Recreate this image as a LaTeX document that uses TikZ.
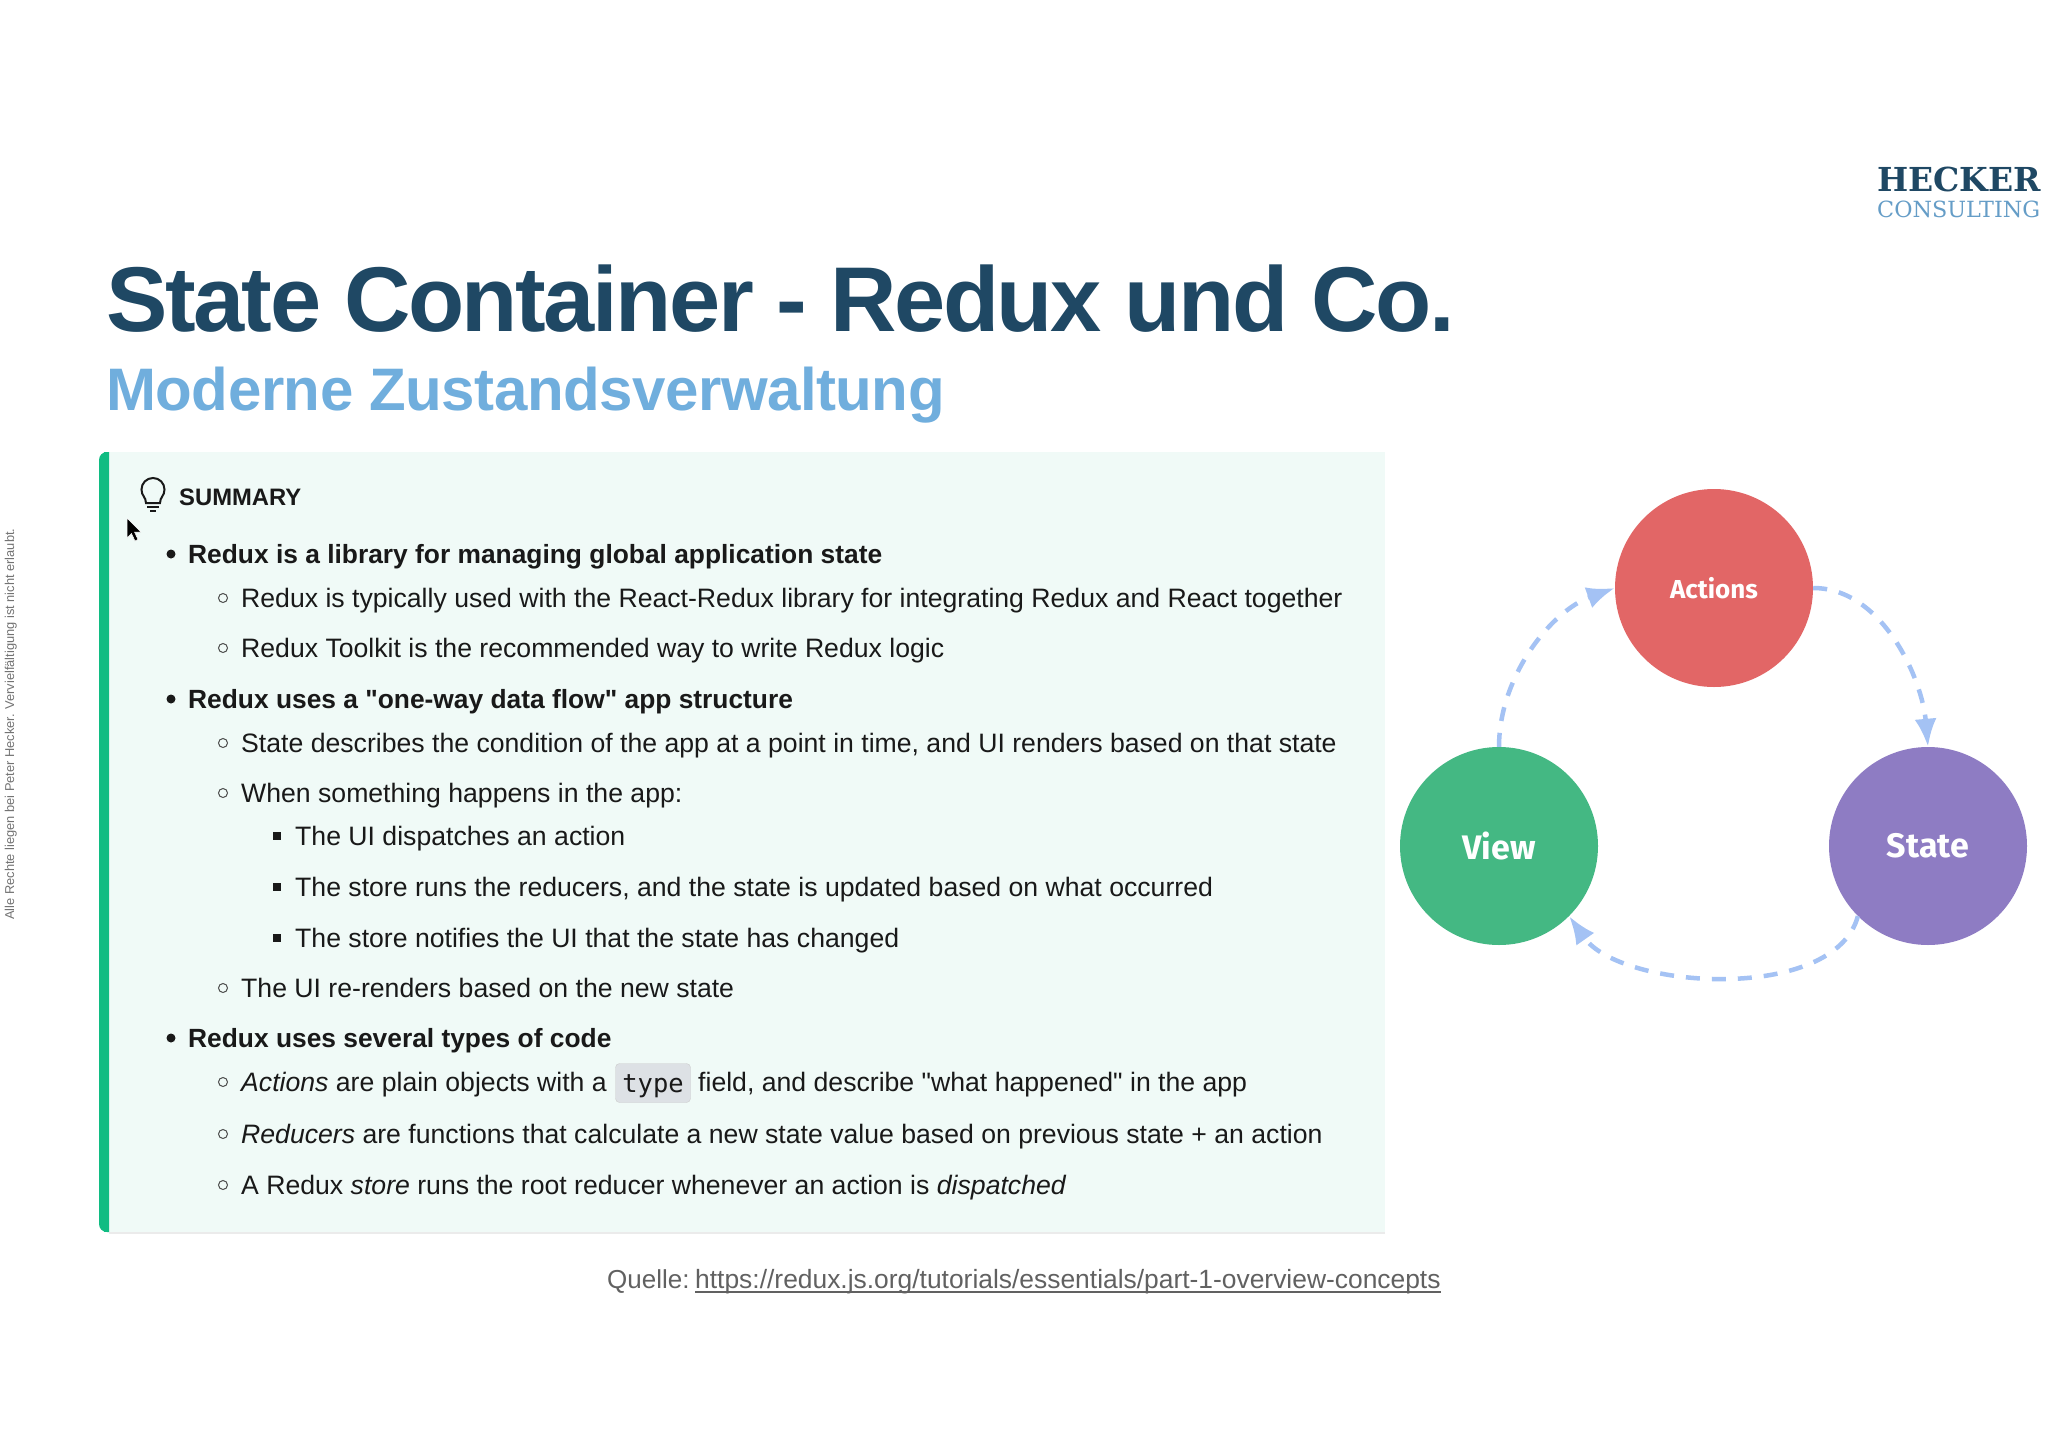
\documentclass[tikz,border=0pt]{standalone}
\usepackage{fontspec}
\setmainfont{Liberation Sans}
\newfontfamily\bodyfont{Liberation Sans}
\newfontfamily\titlefont[LetterSpace=-2.7]{Liberation Sans}
\newfontfamily\subtitlefont[LetterSpace=-0.8]{Liberation Sans}
\newfontfamily\circlefont{Fira Sans}
\newfontfamily\logofont{DejaVu Serif}
\newfontfamily\chipfont{DejaVu Sans Mono}
\usetikzlibrary{arrows.meta}
\definecolor{titleblue}{HTML}{1F4864}
\definecolor{subblue}{HTML}{70AEDD}
\definecolor{boxfill}{HTML}{F0FAF7}
\definecolor{boxgreen}{HTML}{10BC82}
\definecolor{actionsred}{HTML}{E26666}
\definecolor{viewgreen}{HTML}{44B883}
\definecolor{statepurple}{HTML}{8E7CC3}
\definecolor{flowblue}{HTML}{A4C2F4}
\definecolor{chipgray}{HTML}{DDE1E5}
\tikzset{
    txt/.style = {inner sep = 0, anchor = base west, text = black!90},
    itemone/.style = {txt, font = \bodyfont\fontsize{26.35}{32}\selectfont\bfseries},
    itemtwo/.style = {txt, font = \bodyfont\fontsize{26.63}{32}\selectfont},
    itemthree/.style = {itemtwo},
    stage/.style = {circle, minimum size = 198, inner sep = 0, text = white, font = \circlefont\bfseries},
    flow/.style = {draw = flowblue, line width = 4.5, dash pattern = on 14 off 12, -{Latex[length = 28, width = 22]}},
}
\begin{document}
\begin{tikzpicture}[x = 1pt, y = 1pt]
    \useasboundingbox[fill = white] (0, 0) rectangle (2048, -1448);

    % heading and logo
    \node[inner sep = 0, anchor = base west, text = titleblue, font = \titlefont\fontsize{92}{100}\selectfont\bfseries] (title) at (106, -331) {State Container - Redux und Co.};
    \node[inner sep = 0, anchor = base west, text = subblue, font = \subtitlefont\fontsize{60}{66}\selectfont\bfseries] (subtitle) at (106, -410) {Moderne Zustandsverwaltung};
    \node[inner sep = 0, anchor = base west, text = titleblue, font = \logofont\fontsize{33}{40}\selectfont\bfseries] (hecker) at (1877, -191) {HECKER};
    \node[inner sep = 0, anchor = base west, text = subblue!90!black, font = \logofont\fontsize{22.3}{28}\selectfont] (consulting) at (1877, -217) {CONSULTING};
    \node[inner sep = 0, rotate = 90, anchor = base west, text = black!55, font = \fontsize{12.85}{14}\selectfont] (rights) at (14, -920) {Alle Rechte liegen bei Peter Hecker. Vervielfältigung ist nicht erlaubt.};

    % summary box
    \node[fill = black!8, minimum width = 1276, minimum height = 780, inner sep = 0, anchor = north west] (shadow) at (109, -454) {};
    \node[fill = boxfill, minimum width = 1276, minimum height = 780, inner sep = 0, anchor = north west] (box) at (109, -452) {};
    \fill[boxgreen, rounded corners = 8] (109, -452) -- (99, -452) -- (99, -1232) -- (109, -1232);
    \fill[boxgreen] (104, -452) rectangle (109, -1232);

    \draw[line width = 2, black!90] (146, -503) .. controls (146, -497) and (141.5, -496) .. (141.5, -489.5) arc[start angle = 180, end angle = 0, radius = 11.5] .. controls (164.5, -496) and (160, -497) .. (160, -503) -- cycle;
    \draw[line width = 2.5, black!90] (147, -507) -- (159, -507);
    \draw[line width = 2, black!90] (150, -511) -- (156, -511);
    \fill[black, draw = white, line width = 0.5] (127, -518) -- (127, -538) -- (131.5, -533.5) -- (135, -541) -- (138, -539.5) -- (134.5, -532) -- (141, -532) -- cycle;
    \node[txt, font = \fontsize{23.8}{28}\selectfont\bfseries] (summary) at (179, -505) {SUMMARY};

    \node[itemone]   (a)  at (188, -563)  {Redux is a library for managing global application state};
    \node[itemtwo]   (a1) at (241, -607)  {Redux is typically used with the React-Redux library for integrating Redux and React together};
    \node[itemtwo]   (a2) at (241, -657)  {Redux Toolkit is the recommended way to write Redux logic};
    \node[itemone]   (b)  at (188, -708)  {Redux uses a "one-way data flow" app structure};
    \node[itemtwo]   (b1) at (241, -752)  {State describes the condition of the app at a point in time, and UI renders based on that state};
    \node[itemtwo]   (b2) at (241, -802)  {When something happens in the app:};
    \node[itemthree] (c1) at (295, -845)  {The UI dispatches an action};
    \node[itemthree] (c2) at (295, -896)  {The store runs the reducers, and the state is updated based on what occurred};
    \node[itemthree] (c3) at (295, -947)  {The store notifies the UI that the state has changed};
    \node[itemtwo]   (b3) at (241, -997)  {The UI re-renders based on the new state};
    \node[itemone]   (d)  at (188, -1047) {Redux uses several types of code};
    \node[itemtwo]   (d1) at (241, -1091) {\textit{Actions} are plain objects with a};
    \node[draw = black!20, fill = chipgray, rounded corners = 4, minimum width = 75, minimum height = 39, text height = 28, text depth = 10, inner sep = 0, text = black!90, font = \chipfont\fontsize{25.5}{30}\selectfont] (chip) at (653, -1083) {type};
    \node[itemtwo]   (d2) at (698, -1091) {field, and describe "what happened" in the app};
    \node[itemtwo]   (d3) at (241, -1143) {\textit{Reducers} are functions that calculate a new state value based on previous state + an action};
    \node[itemtwo]   (d4) at (241, -1194) {A Redux \textit{store} runs the root reducer whenever an action is \textit{dispatched}};

    \foreach \n in {a, b, d}
        \fill[black!90] (\n.base west) ++(-17, 9) circle (4.5);
    \foreach \n in {a1, a2, b1, b2, b3, d1, d3, d4}
        \draw[line width = 1, black!70] (\n.base west) ++(-18, 9) circle (4.5);
    \foreach \n in {c1, c2, c3}
        \fill[black!90] (\n.base west) ++(-22, 5) rectangle ++(8, 8);

    % source line
    \node[inner sep = 0, anchor = base west, text = black!62, font = \fontsize{26}{30}\selectfont] (source) at (607, -1288) {Quelle:};
    \node[inner sep = 0, anchor = base west, text = black!62, font = \fontsize{26.4}{30}\selectfont] (url) at (695, -1288) {https://redux.js.org/tutorials/essentials/part-1-overview-concepts};
    \draw[black!62, line width = 1.2] ([yshift = -4]url.base west) -- ([yshift = -4]url.base east);

    % state cycle
    \node[stage, fill = actionsred, font = \circlefont\fontsize{26}{30}\selectfont\bfseries] (actions) at (1714, -588) {Actions};
    \node[stage, fill = viewgreen, font = \circlefont\fontsize{34}{38}\selectfont\bfseries] (view) at (1499, -846) {View};
    \node[stage, fill = statepurple, font = \circlefont\fontsize{34}{38}\selectfont\bfseries] (state) at (1928, -846) {State};

    \draw[flow] (view.north) to[out = 90, in = 200, looseness = 0.9] (actions.west);
    \draw[flow] (actions.east) to[out = 0, in = 95, looseness = 0.9] (state.north);
    \draw[flow] (state.225) to[out = 255, in = -55, looseness = 0.8] (view.-45);
\end{tikzpicture}
\end{document}
